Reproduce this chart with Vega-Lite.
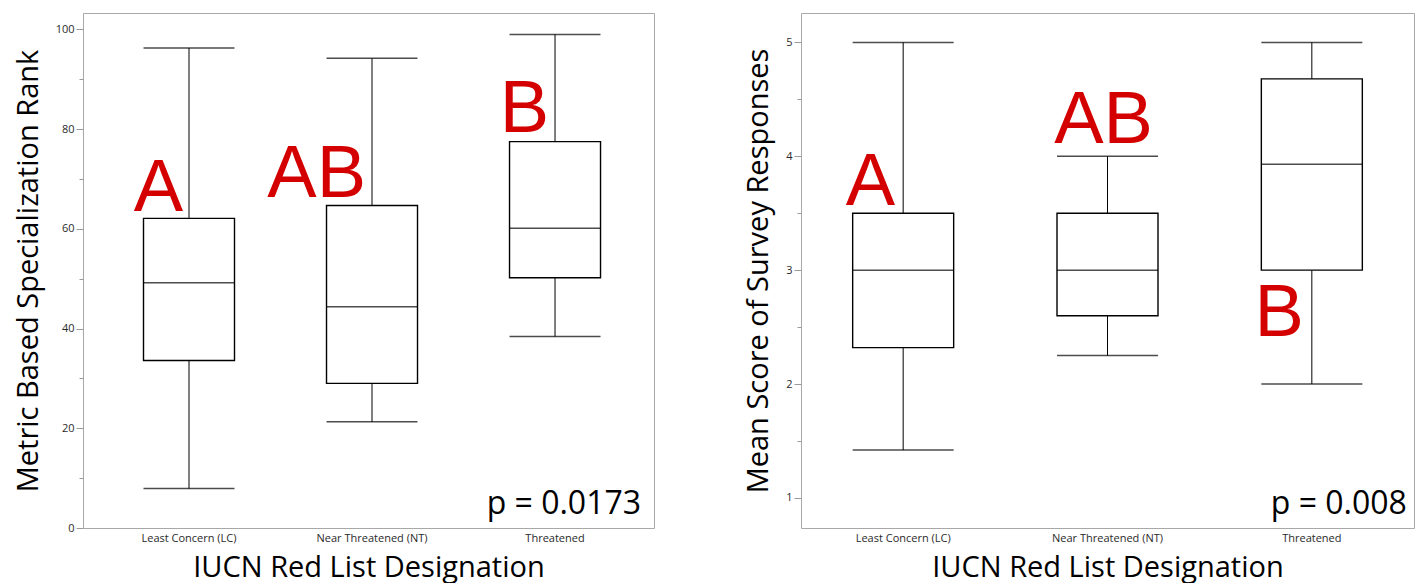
{
  "$schema": "https://vega.github.io/schema/vega-lite/v6.json",
  "padding": {"left": 13, "top": 12, "right": 0, "bottom": 0},
  "background": "white",
  "spacing": 89,
  "config": {
    "view": {"stroke": "#a8a8a8", "strokeWidth": 1},
    "font": "Open Sans",
    "axis": {
      "domain": false,
      "grid": false,
      "labelFont": "Open Sans",
      "labelFontSize": 11,
      "labelColor": "#2a2a2a",
      "tickColor": "#9a9a9a",
      "titleFont": "Open Sans",
      "titleFontSize": 29,
      "titleFontWeight": "normal",
      "titleColor": "#000000"
    }
  },
  "datasets": {
    "rank": [
      {"group": "Least Concern (LC)", "lo": 7.9, "q1": 33.6, "median": 49.2, "q3": 62.1, "hi": 96.3},
      {"group": "Near Threatened (NT)", "lo": 21.3, "q1": 29.0, "median": 44.4, "q3": 64.7, "hi": 94.2},
      {"group": "Threatened", "lo": 38.4, "q1": 50.2, "median": 60.1, "q3": 77.5, "hi": 99.0}
    ],
    "score": [
      {"group": "Least Concern (LC)", "lo": 1.42, "q1": 2.32, "median": 3.0, "q3": 3.5, "hi": 5.0},
      {"group": "Near Threatened (NT)", "lo": 2.25, "q1": 2.6, "median": 3.0, "q3": 3.5, "hi": 4.0},
      {"group": "Threatened", "lo": 2.0, "q1": 3.0, "median": 3.93, "q3": 4.68, "hi": 5.0}
    ],
    "rank_letters": [
      {"group": "Least Concern (LC)", "letter": "A", "y": 63.6},
      {"group": "Near Threatened (NT)", "letter": "AB", "y": 66.3},
      {"group": "Threatened", "letter": "B", "y": 79.4}
    ],
    "score_letters": [
      {"group": "Least Concern (LC)", "letter": "A", "y": 3.57},
      {"group": "Near Threatened (NT)", "letter": "AB", "y": 4.12},
      {"group": "Threatened", "letter": "B", "y": 2.42}
    ],
    "rank_p": [{"group": "Threatened", "label": "p = 0.0173", "y": 2.8}],
    "score_p": [{"group": "Threatened", "label": "p = 0.008", "y": 0.86}]
  },
  "hconcat": [
    {
      "width": 571,
      "height": 515,
      "data": {"name": "rank"},
      "encoding": {
        "x": {
          "field": "group",
          "type": "nominal",
          "sort": ["Least Concern (LC)", "Near Threatened (NT)", "Threatened"],
          "scale": {"paddingInner": 0, "paddingOuter": 0.06, "align": 0.66},
          "axis": {"labelAngle": 0, "ticks": false, "labelPadding": 4, "title": "IUCN Red List Designation", "titlePadding": 10}
        }
      },
      "layer": [
        {
          "mark": {"type": "rule", "color": "#000000", "strokeWidth": 1},
          "encoding": {
            "y": {
              "field": "lo",
              "type": "quantitative",
              "scale": {"domain": [0, 103.3], "nice": false, "zero": false},
              "axis": {
                "title": "Metric Based Specialization Rank",
                "values": [0, 10, 20, 30, 40, 50, 60, 70, 80, 90, 100],
                "labelExpr": "datum.value % 20 === 0 ? datum.label : ''",
                "tickSize": {"condition": {"test": "datum.value % 20 === 0", "value": 7}, "value": 4},
                "labelPadding": 2,
                "titlePadding": 12
              }
            },
            "y2": {"field": "hi"}
          }
        },
        {
          "mark": {"type": "bar", "width": 91, "fill": "white", "stroke": "#000000", "strokeWidth": 1.4},
          "encoding": {"y": {"field": "q1", "type": "quantitative"}, "y2": {"field": "q3"}}
        },
        {
          "mark": {"type": "tick", "size": 91, "thickness": 1.5, "color": "#000000"},
          "encoding": {"y": {"field": "median", "type": "quantitative"}}
        },
        {
          "mark": {"type": "tick", "size": 91, "thickness": 1.5, "color": "#000000"},
          "encoding": {"y": {"field": "lo", "type": "quantitative"}}
        },
        {
          "mark": {"type": "tick", "size": 91, "thickness": 1.5, "color": "#000000"},
          "encoding": {"y": {"field": "hi", "type": "quantitative"}}
        },
        {
          "data": {"name": "rank_letters"},
          "mark": {"type": "text", "align": "right", "baseline": "alphabetic", "dx": -6, "font": "Liberation Sans", "fontSize": 74, "color": "#d40000"},
          "encoding": {"y": {"field": "y", "type": "quantitative"}, "text": {"field": "letter"}}
        },
        {
          "data": {"name": "rank_p"},
          "mark": {"type": "text", "align": "right", "baseline": "alphabetic", "dx": 86, "font": "Open Sans", "fontSize": 32, "color": "#000000"},
          "encoding": {"y": {"field": "y", "type": "quantitative"}, "text": {"field": "label"}}
        }
      ]
    },
    {
      "width": 613,
      "height": 515,
      "data": {"name": "score"},
      "encoding": {
        "x": {
          "field": "group",
          "type": "nominal",
          "sort": ["Least Concern (LC)", "Near Threatened (NT)", "Threatened"],
          "scale": {"paddingInner": 0, "paddingOuter": 0},
          "axis": {"labelAngle": 0, "ticks": false, "labelPadding": 4, "title": "IUCN Red List Designation", "titlePadding": 10}
        }
      },
      "layer": [
        {
          "mark": {"type": "rule", "color": "#000000", "strokeWidth": 1},
          "encoding": {
            "y": {
              "field": "lo",
              "type": "quantitative",
              "scale": {"domain": [0.736, 5.258], "nice": false, "zero": false},
              "axis": {
                "title": "Mean Score of Survey Responses",
                "values": [1, 1.5, 2, 2.5, 3, 3.5, 4, 4.5, 5],
                "labelExpr": "datum.value % 1 === 0 ? format(datum.value, 'd') : ''",
                "tickSize": {"condition": {"test": "datum.value % 1 === 0", "value": 7}, "value": 4},
                "labelPadding": 2,
                "titlePadding": 12
              }
            },
            "y2": {"field": "hi"}
          }
        },
        {
          "mark": {"type": "bar", "width": 101, "fill": "white", "stroke": "#000000", "strokeWidth": 1.4},
          "encoding": {"y": {"field": "q1", "type": "quantitative"}, "y2": {"field": "q3"}}
        },
        {
          "mark": {"type": "tick", "size": 101, "thickness": 1.5, "color": "#000000"},
          "encoding": {"y": {"field": "median", "type": "quantitative"}}
        },
        {
          "mark": {"type": "tick", "size": 101, "thickness": 1.5, "color": "#000000"},
          "encoding": {"y": {"field": "lo", "type": "quantitative"}}
        },
        {
          "mark": {"type": "tick", "size": 101, "thickness": 1.5, "color": "#000000"},
          "encoding": {"y": {"field": "hi", "type": "quantitative"}}
        },
        {
          "data": {"name": "score_letters"},
          "transform": [{"filter": "datum.letter !== 'AB'"}],
          "mark": {"type": "text", "align": "right", "baseline": "alphabetic", "dx": -8, "font": "Liberation Sans", "fontSize": 74, "color": "#d40000"},
          "encoding": {"y": {"field": "y", "type": "quantitative"}, "text": {"field": "letter"}}
        },
        {
          "data": {"name": "score_letters"},
          "transform": [{"filter": "datum.letter === 'AB'"}],
          "mark": {"type": "text", "align": "center", "baseline": "alphabetic", "dx": -4, "font": "Liberation Sans", "fontSize": 74, "color": "#d40000"},
          "encoding": {"y": {"field": "y", "type": "quantitative"}, "text": {"field": "letter"}}
        },
        {
          "data": {"name": "score_p"},
          "mark": {"type": "text", "align": "right", "baseline": "alphabetic", "dx": 95, "font": "Open Sans", "fontSize": 32, "color": "#000000"},
          "encoding": {"y": {"field": "y", "type": "quantitative"}, "text": {"field": "label"}}
        }
      ]
    }
  ]
}
